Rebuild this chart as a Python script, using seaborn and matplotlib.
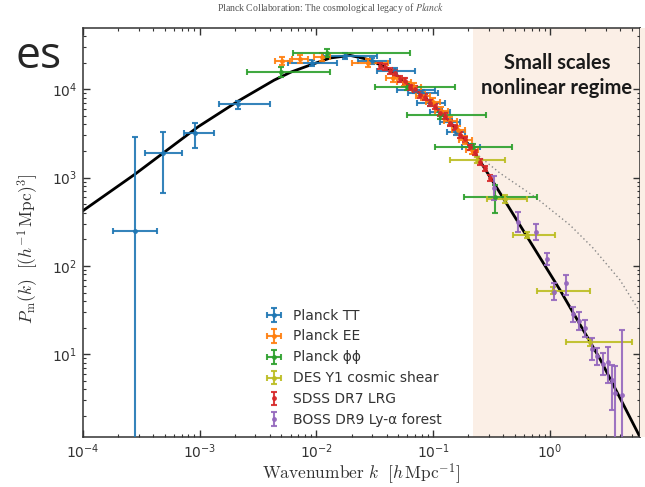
import numpy as np
import matplotlib
matplotlib.use("Agg")
import matplotlib.pyplot as plt
import seaborn as sns
from matplotlib.patches import Rectangle
from matplotlib.ticker import LogLocator, NullFormatter

# ---------------- theory curves ----------------
lin_k = [1e-4, 2.804e-4, 9.71e-4, 2.136e-3, 4.342e-3, 6.073e-3, 8.83e-3, 0.0131, 0.01943,
         0.02883, 0.04276, 0.0634, 0.09408, 0.1395, 0.2196, 0.3388, 0.7454, 1.220, 2.685, 5.907]
lin_P = [422, 1099, 3770, 7360, 12700, 15700, 18800, 22600, 24200,
         21500, 16600, 10900, 7180, 4260, 2050, 825, 153, 53.3, 8.83, 1.156]
nl_k = [0.2196, 0.2521, 0.3739, 0.7454, 1.486, 2.339, 3.984, 5.907]
nl_P = [2050, 1712, 1122, 603, 290, 159.6, 69.2, 30]

# ---------------- Planck TT ----------------
tt_k   = [2.804e-4, 4.80e-4, 9.15e-4, 2.124e-3, 9.19e-3, 0.01761, 0.02998, 0.04718, 0.06998, 0.08035, 0.09408, 0.1146, 0.1395, 0.1571, 0.2111]
tt_klo = [1.792e-4, 3.415e-4, 7.37e-4, 1.469e-3, 5.724e-3, 0.01141, 0.02275, 0.03309, 0.04908, 0.06095, 0.07281, 0.09408, 0.1146, 0.1315, 0.1768]
tt_khi = [4.30e-4, 7.04e-4, 1.331e-3, 3.96e-3, 0.01504, 0.03309, 0.04276, 0.06998, 0.1038, 0.1102, 0.1264, 0.1395, 0.1699, 0.1875, 0.2521]
tt_P   = [250, 1915, 3175, 6820, 19860, 23840, 21080, 16240, 9820, 9080, 7050, 5577, 4263, 3310, 2239]
tt_Plo = [0.5, 664, 2180, 5990, 18300, 22000, 19500, 15000, 9050, 8370, 6500, 5140, 3930, 3050, 2060]
tt_Phi = [2860, 3260, 4120, 7430, 21500, 25800, 22800, 17600, 10650, 9850, 7650, 6050, 4620, 3590, 2430]

# ---------------- Planck EE ----------------
ee_k   = [5.084e-3, 7.252e-3, 0.01119, 0.02771, 0.04536, 0.05634, 0.06861, 0.08194, 0.09979, 0.1168, 0.1395, 0.1634, 0.1875, 0.2153]
ee_klo = [4.43e-3, 6.194e-3, 9.556e-3, 0.02021, 0.03952, 0.04908, 0.05976, 0.07138, 0.08692, 0.1038, 0.1240, 0.1451, 0.1666, 0.1912]
ee_khi = [5.954e-3, 8.489e-3, 0.0131, 0.04112, 0.05207, 0.06467, 0.07876, 0.09408, 0.1146, 0.1341, 0.1602, 0.1875, 0.2153, 0.2423]
ee_P   = [20920, 22030, 23220, 19860, 13430, 12100, 10620, 8400, 7180, 5679, 4375, 3460, 2666, 2054]
ee_Plo = [18900, 19900, 21000, 17950, 12150, 10950, 9600, 7600, 6500, 5140, 3960, 3130, 2410, 1860]
ee_Phi = [23100, 24300, 25600, 21950, 14850, 13350, 11750, 9300, 7930, 6280, 4840, 3820, 2950, 2270]

# ---------------- Planck phi-phi ----------------
pp_k   = [4.985e-3, 0.01235, 0.05976, 0.1146, 0.2196, 0.3388]
pp_klo = [2.535e-3, 6.316e-3, 0.03181, 0.05976, 0.1038, 0.1839]
pp_khi = [0.0131, 0.0634, 0.1540, 0.2837, 0.4737, 0.7756]
pp_P   = [15820, 25770, 10530, 5050, 2221, 603]
pp_Plo = [13890, 23220, 9700, 4650, 2050, 397]
pp_Phi = [18030, 28610, 11400, 5480, 2400, 825]

# ---------------- DES Y1 cosmic shear ----------------
des_k   = [0.2376, 0.4127, 0.6368, 1.063, 2.204]
des_klo = [0.1395, 0.2894, 0.4831, 0.7709, 1.373]
des_khi = [0.4127, 0.6368, 1.106, 2.204, 5.015]
des_P   = [1582, 572, 224, 52.4, 13.64]
des_Plo = [1450, 520, 205, 48, 12.5]
des_Phi = [1720, 630, 245, 57, 14.9]

# ---------------- SDSS DR7 LRG ----------------
lrg_k = [0.03511, 0.03876, 0.04276, 0.04718, 0.05207, 0.05746, 0.0634, 0.06998, 0.07722, 0.08522,
         0.09408, 0.1038, 0.1146, 0.1264, 0.1395, 0.1540, 0.1699, 0.1875, 0.2069, 0.2284,
         0.2521, 0.2781, 0.3070]
lrg_P = [18400, 17900, 16100, 15300, 13100, 12400, 10600, 10100, 8600, 8200,
         7000, 6450, 5400, 4980, 4150, 3720, 3050, 2720, 2210, 1930,
         1510, 1280, 990]
lrg_Plo = [17100, 16600, 15000, 14200, 12200, 11500, 9850, 9400, 8000, 7600,
           6500, 6000, 5020, 4630, 3860, 3460, 2840, 2530, 2060, 1800,
           1400, 1190, 920]
lrg_Phi = [19700, 19200, 17200, 16400, 14000, 13300, 11300, 10800, 9200, 8800,
           7500, 6900, 5780, 5330, 4440, 3980, 3260, 2910, 2360, 2070,
           1620, 1370, 1060]

# ---------------- BOSS DR9 Ly-alpha forest ----------------
lya_k   = [0.3322, 0.5332, 0.7558, 0.9499, 1.084, 1.373, 1.586, 1.775, 1.998, 2.280, 2.546, 2.832, 3.126, 3.382, 3.629, 4.119]
lya_P   = [762, 314.2, 242, 119.7, 50.6, 64.0, 28.5, 23.8, 19.8, 11.45, 9.54, 7.74, 8.16, 5.10, 3.64, 3.45]
lya_Plo = [557.7, 244, 196.5, 102.4, 41.1, 46.8, 23.3, 18.8, 15.8, 8.6, 7.55, 5.81, 4.68, 2.33, 0.5, 0.5]
lya_Phi = [1043, 411, 298, 138.9, 63.5, 78.9, 34.5, 30.3, 24.4, 15.1, 11.66, 10.24, 12.16, 7.55, 7.35, 18.8]

shade_k0 = 0.2196
xlim = (1e-4, 5.907)
ylim = (1.157, 49400)

# ---------------- style ----------------
sns.set_theme(style="ticks")
plt.rcParams["font.family"] = ["DejaVu Sans"]
plt.rcParams["mathtext.fontset"] = "dejavusans"
txtc = "#333333"

fig = plt.figure(figsize=(6.45, 4.87), dpi=100)
fig.patch.set_facecolor("white")
ax = fig.add_axes([83 / 645, 50 / 487, 557 / 645, 409 / 487])
ax.set_xscale("log")
ax.set_yscale("log")
ax.set_xlim(*xlim)
ax.set_ylim(*ylim)

shade = "#fbefe6"
ax.axvspan(shade_k0, 100, color=shade, lw=0, zorder=0)
fig.patches.append(Rectangle((640 / 645, 50 / 487), 5 / 645, 409 / 487,
                             transform=fig.transFigure, color=shade, lw=0, zorder=0))

sns.lineplot(x=nl_k, y=nl_P, ax=ax, color="#888888", lw=1.0, linestyle=(0, (1, 2)), zorder=1)
sns.lineplot(x=lin_k, y=lin_P, ax=ax, color="black", lw=2.0, zorder=2)


def eb(k, P, Plo, Phi, color, label, klo=None, khi=None):
    k = np.asarray(k, float)
    P = np.asarray(P, float)
    yerr = [P - np.asarray(Plo, float), np.asarray(Phi, float) - P]
    xerr = None
    if klo is not None:
        xerr = [k - np.asarray(klo, float), np.asarray(khi, float) - k]
    ax.errorbar(k, P, xerr=xerr, yerr=yerr, fmt="o", ms=2.5, color=color, ecolor=color,
                elinewidth=1.5, capsize=2.5, capthick=1.5, alpha=0.9, label=label, zorder=3)


eb(tt_k, tt_P, tt_Plo, tt_Phi, "#1f77b4", "Planck TT", tt_klo, tt_khi)
eb(ee_k, ee_P, ee_Plo, ee_Phi, "#ff7f0e", "Planck EE", ee_klo, ee_khi)
eb(pp_k, pp_P, pp_Plo, pp_Phi, "#2ca02c", "Planck \u03d5\u03d5", pp_klo, pp_khi)
eb(des_k, des_P, des_Plo, des_Phi, "#bcbd22", "DES Y1 cosmic shear", des_klo, des_khi)
eb(lrg_k, lrg_P, lrg_Plo, lrg_Phi, "#d62728", "SDSS DR7 LRG")
eb(lya_k, lya_P, lya_Plo, lya_Phi, "#9467bd", "BOSS DR9 Ly-\u03b1 forest")

for axis in (ax.xaxis, ax.yaxis):
    axis.set_major_locator(LogLocator(base=10, numticks=20))
    axis.set_minor_locator(LogLocator(base=10, subs=np.arange(2, 10), numticks=20))
    axis.set_minor_formatter(NullFormatter())
ax.tick_params(which="both", direction="in", top=True, right=True, colors="#333333",
               labelcolor=txtc, labelsize=10)
ax.tick_params(which="major", length=5, width=1, pad=4)
ax.tick_params(which="minor", length=2.5, width=0.8)
for s in ax.spines.values():
    s.set_color("#333333")
    s.set_linewidth(1.1)

ax.set_xlabel(r"$\mathrm{Wavenumber}\ k\ \ [h\,\mathrm{Mpc}^{-1}]$", math_fontfamily="cm",
              fontsize=12.5, color=txtc, labelpad=0)
ax.set_ylabel(r"$P_\mathrm{m}(k)\ \ [(h^{-1}\,\mathrm{Mpc})^3]$", math_fontfamily="cm",
              fontsize=12.5, color=txtc)
ax.yaxis.set_label_coords(-0.077, 0.46)

leg = ax.legend(loc="lower left", bbox_to_anchor=(0.31, 0.0), frameon=False, fontsize=10,
                handlelength=1.2, handletextpad=0.8, labelspacing=0.5, borderaxespad=0.3)
for t in leg.get_texts():
    t.set_color(txtc)

fig.text(557 / 645, 1 - 75.5 / 487, "Small scales\nnonlinear regime", ha="center", va="center",
         fontsize=14.5, fontweight="bold", family="Lato", color="#1a1a1a", linespacing=1.3)
fig.text(62 / 645, 1 - 68 / 487, "es", ha="right", va="baseline", fontsize=32,
         family="Open Sans", color="#262626")
fig.text(331 / 645, 1 - 8 / 487, r"Planck Collaboration: The cosmological legacy of $\mathit{Planck}$",
         ha="center", va="center", fontsize=7, family="Liberation Serif", math_fontfamily="stix",
         color="#555555")

fig.savefig("out.png", dpi=100)
